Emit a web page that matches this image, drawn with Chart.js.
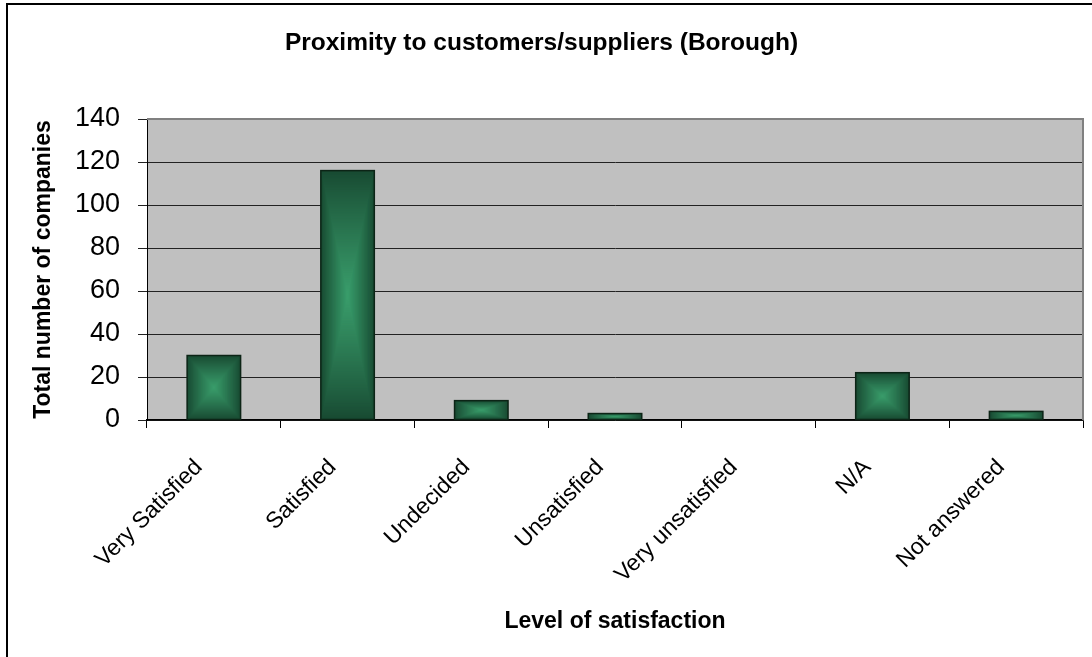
<!DOCTYPE html>
<html>
<head>
<meta charset="utf-8">
<script src="https://cdn.jsdelivr.net/npm/chart.js@4.4.0/dist/chart.umd.min.js"></script>
<style>
  html, body { margin: 0; padding: 0; background: #ffffff; }
  #wrap { width: 1092px; height: 657px; position: relative; }
</style>
</head>
<body>
<div id="wrap"><canvas id="c" width="1092" height="657"></canvas></div>
<script>
const categories = ['Very Satisfied', 'Satisfied', 'Undecided', 'Unsatisfied', 'Very unsatisfied', 'N/A', 'Not answered'];
const companies = [30, 116, 9, 3, 0, 22, 4];
const yTickValues = [0, 20, 40, 60, 80, 100, 120, 140];
const chartTitle = 'Proximity to customers/suppliers (Borough)';
const xAxisTitle = 'Level of satisfaction';
const yAxisTitle = 'Total number of companies';

const FONT = "'Liberation Sans', Arial, Helvetica, sans-serif";

function mix(c1, c2, t) {
  const r = Math.round(c1[0] + (c2[0] - c1[0]) * t);
  const g = Math.round(c1[1] + (c2[1] - c1[1]) * t);
  const b = Math.round(c1[2] + (c2[2] - c1[2]) * t);
  return 'rgb(' + r + ',' + g + ',' + b + ')';
}

const frame = {
  id: 'frame',
  beforeDraw(chart) {
    const { ctx, chartArea: a } = chart;
    ctx.save();
    ctx.fillStyle = '#ffffff';
    ctx.fillRect(0, 0, chart.width, chart.height);
    ctx.fillStyle = '#c0c0c0';
    ctx.fillRect(a.left, a.top, a.right - a.left, a.bottom - a.top);
    ctx.restore();
  },
  afterDraw(chart) {
    const { ctx, chartArea: a } = chart;
    ctx.save();
    ctx.strokeStyle = '#808080';
    ctx.lineWidth = 2;
    ctx.beginPath();
    ctx.moveTo(a.left, a.top);
    ctx.lineTo(a.right, a.top);
    ctx.lineTo(a.right, a.bottom);
    ctx.stroke();
    ctx.strokeStyle = '#000000';
    ctx.lineWidth = 2;
    ctx.beginPath();
    ctx.moveTo(7, chart.height + 5);
    ctx.lineTo(7, 4);
    ctx.lineTo(chart.width + 5, 4);
    ctx.stroke();
    ctx.restore();
  }
};

const gradientBars = {
  id: 'gradientBars',
  afterDatasetsDraw(chart) {
    const ctx = chart.ctx;
    const edge = [24, 74, 50];
    const mid = [58, 158, 108];
    chart.getDatasetMeta(0).data.forEach(bar => {
      const p = bar.getProps(['x', 'y', 'base', 'width'], true);
      const l = p.x - p.width / 2, r = p.x + p.width / 2;
      const t = Math.min(p.y, p.base), b = Math.max(p.y, p.base);
      const w = r - l, h = b - t;
      if (h < 0.5) return;
      ctx.save();
      const n = Math.max(2, Math.ceil(Math.max(w, h) / 2));
      for (let k = 0; k < n; k++) {
        const f = k / n;
        const ix = f * w / 2, iy = f * h / 2;
        ctx.fillStyle = mix(edge, mid, Math.pow(f, 0.9));
        ctx.fillRect(l + ix, t + iy, w - 2 * ix, h - 2 * iy);
      }
      ctx.strokeStyle = '#0c2416';
      ctx.lineWidth = 1.5;
      ctx.strokeRect(l, t, w, h);
      ctx.restore();
    });
  }
};

new Chart(document.getElementById('c'), {
  type: 'bar',
  data: {
    labels: categories,
    datasets: [{
      data: companies,
      backgroundColor: '#1b5036',
      borderWidth: 0,
      categoryPercentage: 1.0,
      barPercentage: 0.4
    }]
  },
  options: {
    responsive: false,
    animation: false,
    events: [],
    layout: { padding: { left: 0, right: 9, top: 0, bottom: 0 } },
    plugins: {
      legend: { display: false },
      tooltip: { enabled: false },
      title: {
        display: true,
        text: chartTitle,
        color: '#000000',
        font: { family: FONT, size: 24.5, weight: 'bold', lineHeight: 1.2 },
        padding: { top: 29, bottom: 60.6 }
      }
    },
    scales: {
      x: {
        offset: true,
        grid: { display: true, offset: true, drawOnChartArea: false, drawTicks: true, tickLength: 8, color: '#000000', lineWidth: 1 },
        border: { display: true, color: '#000000', width: 1.5 },
        ticks: {
          color: '#000000',
          font: { family: FONT, size: 23 },
          maxRotation: 45,
          minRotation: 45,
          autoSkip: false,
          padding: 26,
          labelOffset: -15
        },
        title: {
          display: true,
          text: xAxisTitle,
          color: '#000000',
          font: { family: FONT, size: 23, weight: 'bold', lineHeight: 1.2 },
          padding: { top: 0, bottom: 22 }
        },
        afterFit(scale) { scale.height = 237; }
      },
      y: {
        min: 0,
        max: 140,
        afterBuildTicks(scale) { scale.ticks = yTickValues.map(v => ({ value: v })); },
        grid: { color: '#222222', lineWidth: 1, drawTicks: true, tickLength: 9 },
        border: { display: true, color: '#000000', width: 1 },
        ticks: {
          color: '#000000',
          font: { family: FONT, size: 27 },
          padding: 18
        },
        title: {
          display: true,
          text: yAxisTitle,
          color: '#000000',
          font: { family: FONT, size: 23, weight: 'bold', lineHeight: 1.2 },
          padding: { top: 30, bottom: 0 }
        },
        afterFit(scale) { scale.width = 147; }
      }
    }
  },
  plugins: [frame, gradientBars]
});
</script>
</body>
</html>
